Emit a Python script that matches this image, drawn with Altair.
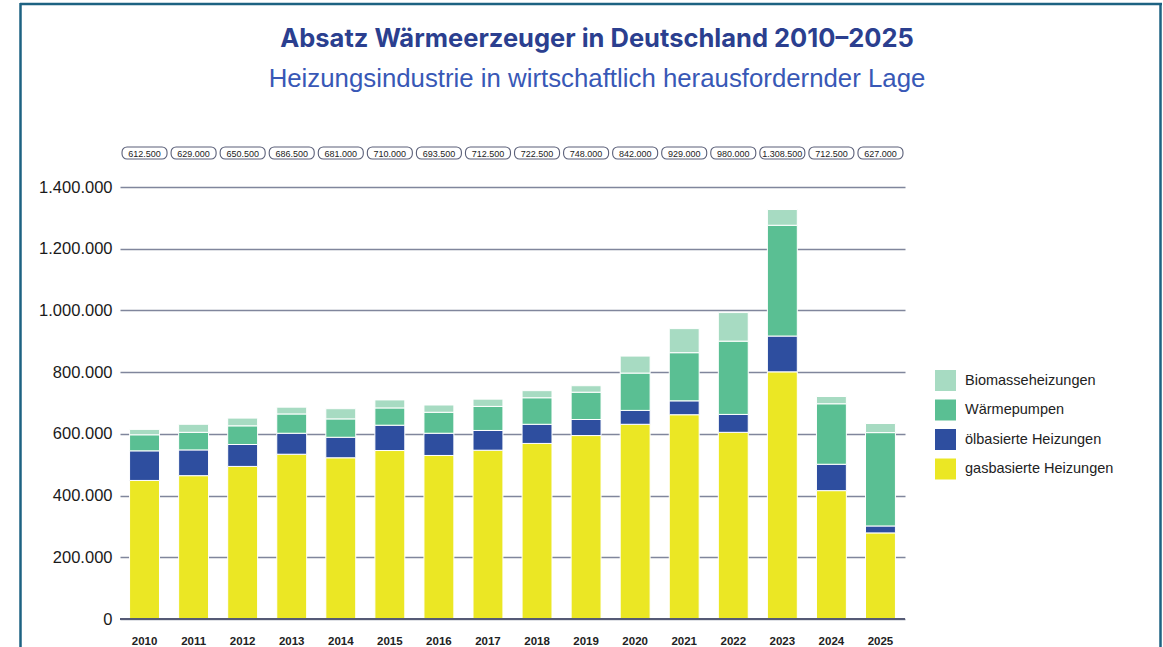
import altair as alt
import pandas as pd

years = [str(y) for y in range(2010, 2026)]
totals = ["612.500", "629.000", "650.500", "686.500", "681.000", "710.000", "693.500", "712.500",
          "722.500", "748.000", "842.000", "929.000", "980.000", "1.308.500", "712.500", "627.000"]
gas = [449000, 464500, 494500, 534000, 522500, 546000, 530000, 547000,
       569000, 594500, 631000, 662000, 605000, 801000, 416000, 279000]
oil = [96000, 83500, 71000, 68000, 66500, 82000, 72000, 64000,
       62000, 52000, 45000, 45000, 58000, 116000, 85500, 22500]
heatpumps = [52000, 57000, 60500, 62500, 59500, 56000, 68000, 78000,
             86000, 88500, 121000, 156000, 237500, 359000, 196000, 302500]
biomass = [17500, 26000, 25000, 22000, 33000, 26000, 23500, 23500,
           23000, 21000, 55000, 78000, 92500, 51000, 23500, 29500]

series = ["Biomasseheizungen", "Wärmepumpen", "ölbasierte Heizungen", "gasbasierte Heizungen"]
colors = ["#a7dbc2", "#5abf93", "#2e4e9f", "#ebe724"]
y_ticks = [0, 200000, 400000, 600000, 800000, 1000000, 1200000, 1400000]

title_text = "Absatz Wärmeerzeuger in Deutschland 2010–2025"
subtitle_text = "Heizungsindustrie in wirtschaftlich herausfordernder Lage"

rows = []
for i, y in enumerate(years):
    for name, vals, rank in [(series[3], gas, 0), (series[2], oil, 1),
                             (series[1], heatpumps, 2), (series[0], biomass, 3)]:
        rows.append({"Jahr": y, "Typ": name, "Wert": vals[i], "rank": rank})
df = pd.DataFrame(rows)
df_tot = pd.DataFrame({"Jahr": years, "Label": totals})
df_one = pd.DataFrame({"a": [0]})

W, H = 785, 432
xscale = alt.Scale(domain=years, paddingInner=0.39, paddingOuter=0.195)

bars = alt.Chart(df).mark_bar(stroke="white", strokeWidth=1).encode(
    x=alt.X("Jahr:N", scale=xscale, sort=years,
            axis=alt.Axis(title=None, labelAngle=0, ticks=False, domain=False,
                          labelFontSize=11.5, labelFontWeight="bold", labelColor="#222222",
                          labelFont="Liberation Sans", labelPadding=16, grid=False)),
    y=alt.Y("Wert:Q", stack="zero",
            scale=alt.Scale(domain=[0, 1400000], nice=False),
            axis=alt.Axis(title=None, values=y_ticks, ticks=False, domain=False,
                          labelFontSize=16.5, labelColor="#1a1a1a", labelFont="Liberation Sans",
                          labelPadding=8, gridColor="#80869c", gridWidth=1.6,
                          labelExpr="replace(replace(format(datum.value, ','), ',', '.'), ',', '.')")),
    color=alt.Color("Typ:N", scale=alt.Scale(domain=series, range=colors),
                    legend=alt.Legend(title=None, orient="none", legendX=815, legendY=183,
                                      symbolType="square", symbolSize=441, symbolStrokeWidth=0,
                                      symbolOpacity=1,
                                      labelFontSize=14.5, labelColor="#222222",
                                      labelFont="Liberation Sans", labelOffset=9,
                                      rowPadding=8.5)),
    order=alt.Order("rank:Q", sort="ascending"),
)

zero = alt.Chart(df_one).mark_rule(color="#555a75", strokeWidth=2).encode(
    y=alt.datum(0))

badges = alt.Chart(df_tot).mark_bar(width=45, cornerRadius=5, fill="white",
                                    stroke="#5a5f78", strokeWidth=1.1).encode(
    x=alt.X("Jahr:N", scale=xscale, sort=years),
    y=alt.value(-40), y2=alt.value(-28))

badge_text = alt.Chart(df_tot).mark_text(fontSize=9, font="Liberation Sans",
                                         color="#222222", baseline="middle").encode(
    x=alt.X("Jahr:N", scale=xscale, sort=years),
    y=alt.value(-33.5), text="Label:N")

title = alt.Chart(df_one).mark_text(font="Inter", fontSize=25.5, fontWeight="bold",
                                    color="#2b3f8f", align="center",
                                    baseline="alphabetic").encode(
    x=alt.value(477), y=alt.value(-140), text=alt.value(title_text))
subtitle = alt.Chart(df_one).mark_text(font="Liberation Sans", fontSize=25.8,
                                       color="#3858b6", align="center",
                                       baseline="alphabetic").encode(
    x=alt.value(477), y=alt.value(-100), text=alt.value(subtitle_text))

frame_col = "#1d6282"
frame_top = alt.Chart(df_one).mark_rule(color=frame_col, strokeWidth=2.5).encode(
    x=alt.value(-100), x2=alt.value(1042), y=alt.value(-183))
frame_left = alt.Chart(df_one).mark_rule(color=frame_col, strokeWidth=2.5).encode(
    x=alt.value(-99.5), y=alt.value(-184), y2=alt.value(470))
frame_right = alt.Chart(df_one).mark_rule(color=frame_col, strokeWidth=2.5).encode(
    x=alt.value(1040.5), y=alt.value(-184), y2=alt.value(470))

chart = alt.layer(bars, zero, badges, badge_text, title, subtitle,
                  frame_top, frame_left, frame_right).properties(
    width=W, height=H,
    background="white",
    autosize=alt.AutoSizeParams(type="none"),
    padding={"left": 120, "top": 187, "right": 1163 - 120 - W, "bottom": 647 - 187 - H},
).configure_view(strokeWidth=0, stroke=None)

chart.save("out.html", embed_options={"renderer": "svg", "actions": False})
